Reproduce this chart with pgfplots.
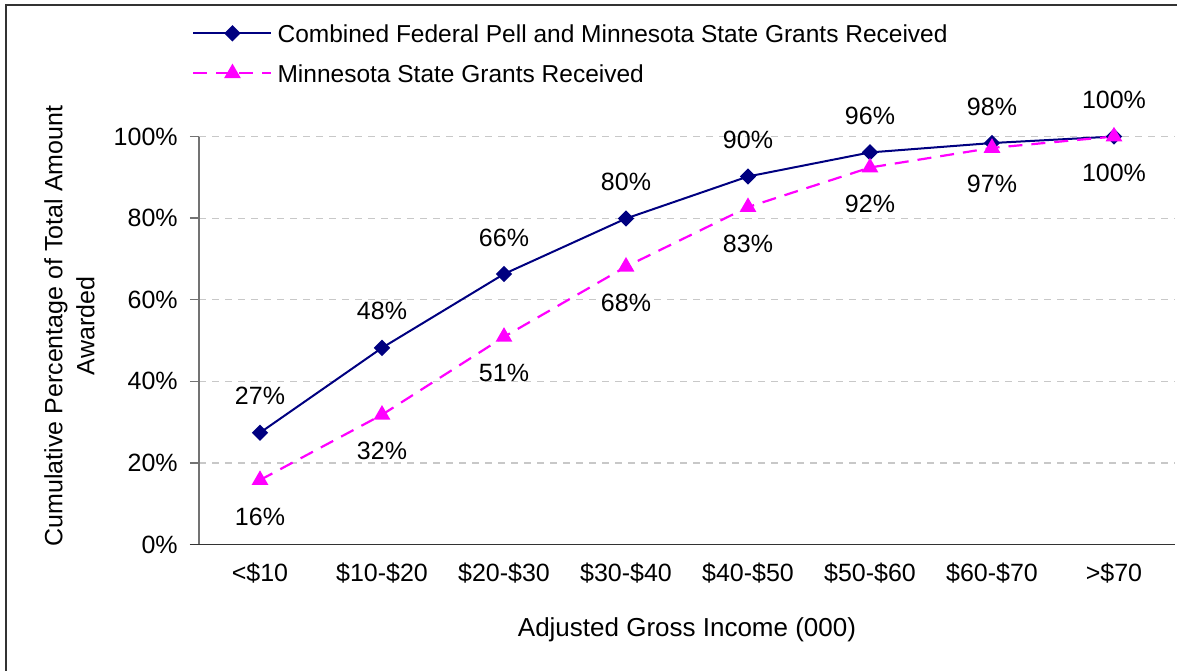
\documentclass[border=0pt]{standalone}
\usepackage{fontspec}
\setmainfont{Liberation Sans}
\usepackage{pgfplots}
\pgfplotsset{compat=1.18}
\definecolor{navyc}{RGB}{0,0,128}
\definecolor{magc}{RGB}{255,0,255}
\definecolor{gridc}{RGB}{200,200,200}
\begin{document}
\fontsize{12.5}{16}\selectfont
\begin{tikzpicture}
\useasboundingbox (0,0) rectangle (588.5pt,-335pt);
\draw[line width=1pt, black!80] (3pt,-2.5pt) rectangle (620pt,-360pt);
\begin{axis}[
  at={(99.5pt,-272.25pt)}, anchor=south west,
  scale only axis, width=488pt, height=204pt,
  xmin=-0.5, xmax=7.5, ymin=0, ymax=100,
  clip=false,
  xtick={0,...,7},
  xticklabels={<\$10,\$10-\$20,\$20-\$30,\$30-\$40,\$40-\$50,\$50-\$60,\$60-\$70,>\$70},
  ytick={0,20,40,60,80,100},
  yticklabels={0\%,20\%,40\%,60\%,80\%,100\%},
  ymajorgrids,
  grid style={gridc, dash pattern=on 3.5pt off 3pt, line width=0.6pt},
  axis line style={draw=none},
  xtick style={draw=none},
  ytick style={black!55, line width=0.7pt},
  tick align=outside, major tick length=4.5pt,
  ytick pos=left, xtick pos=bottom,
  yticklabel style={xshift=-1.8pt},
  xticklabel style={anchor=base, yshift=-14pt},
  xlabel={Adjusted Gross Income (000)},
  xlabel style={font=\fontsize{13}{16}\selectfont, at={(axis description cs:0.5,-0.2096)}, anchor=center},
  ylabel={Cumulative Percentage of Total Amount\\Awarded},
  ylabel style={align=center, at={(axis description cs:-0.1327,0.5355)}, anchor=center},
  legend cell align=left,
  legend style={draw=none, fill=none, at={(rel axis cs:-0.0072,1.276)}, anchor=north west,
    inner sep=0pt, row sep=11pt, column sep=2.5pt, font=\fontsize{12.25}{15}\selectfont,
    nodes={inner sep=0pt, text height=9pt, text depth=0pt}},
  legend image code/.code={\draw[mark repeat=2,mark phase=2,#1] plot coordinates {(0pt,0pt) (19.5pt,0pt) (39pt,0pt)};},
]
\addplot[navyc, line width=1pt, mark=square*, mark size=2.4pt,
  mark options={solid, rotate=45, fill=navyc},
  point meta=explicit symbolic, nodes near coords,
  every node near coord/.style={anchor=base, yshift=14pt, black}]
  coordinates {
  (0,27.4) [27\%]
  (1,48.2) [48\%]
  (2,66.3) [66\%]
  (3,79.9) [80\%]
  (4,90.2) [90\%]
  (5,96.1) [96\%]
  (6,98.4) [98\%]
  (7,100) [100\%]
  };
\addlegendentry{Combined Federal Pell and Minnesota State Grants Received}
\addplot[magc, line width=1.1pt, dash pattern=on 7pt off 4.5pt, mark=triangle*, mark size=3.75pt,
  mark options={solid, fill=magc},
  point meta=explicit symbolic, nodes near coords,
  every node near coord/.style={anchor=base, yshift=-22.5pt, black}]
  coordinates {
  (0,15.8) [16\%]
  (1,31.8) [32\%]
  (2,50.9) [51\%]
  (3,68.1) [68\%]
  (4,82.7) [83\%]
  (5,92.4) [92\%]
  (6,97.2) [97\%]
  (7,100) [100\%]
  };
\addlegendentry{Minnesota State Grants Received}
\draw[black!55, line width=0.8pt] (rel axis cs:0,0) -- (rel axis cs:0,1);
\draw[black!80, line width=0.8pt] ([xshift=-4.5pt]rel axis cs:0,0) -- (rel axis cs:1,0);
\end{axis}
\end{tikzpicture}
\end{document}
